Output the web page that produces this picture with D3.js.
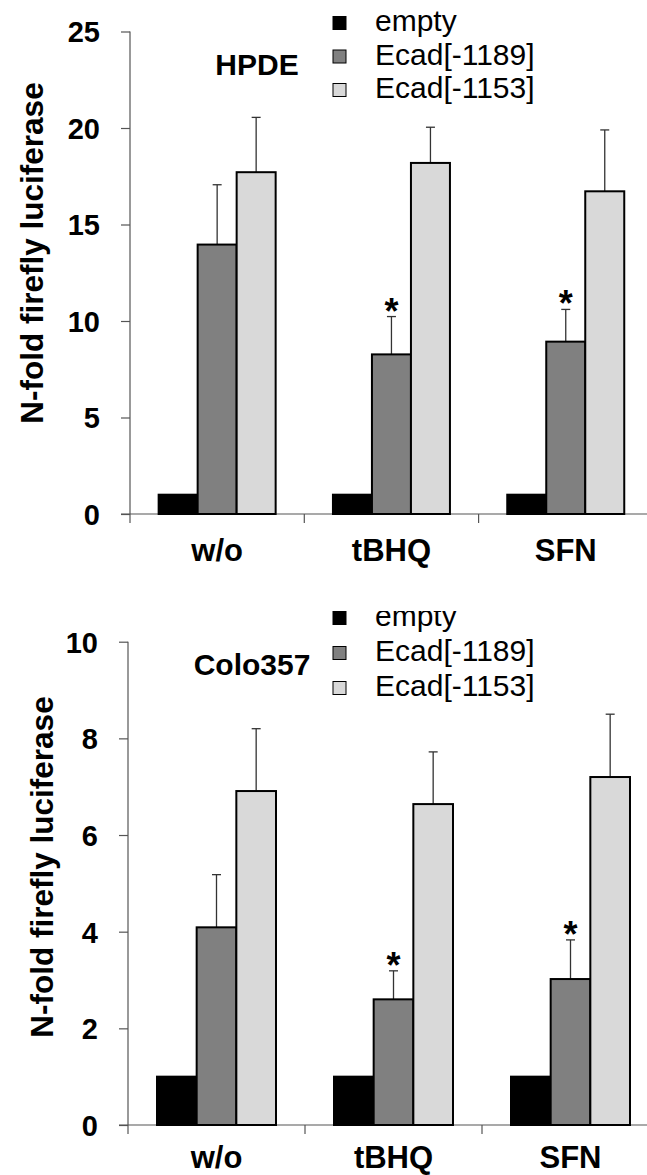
<!DOCTYPE html>
<html>
<head>
<meta charset="utf-8">
<script src="https://cdn.jsdelivr.net/npm/d3@7"></script>
<style>
  body { margin: 0; background: #fff; }
  svg text { font-family: "Liberation Sans", Arial, sans-serif; }
</style>
</head>
<body>
<div id="chart"></div>
<script>
// categories and series
const categories = ["w/o", "tBHQ", "SFN"];
const series = ["empty", "Ecad[-1189]", "Ecad[-1153]"];
const seriesColors = ["#000000", "#808080", "#d9d9d9"];

// HPDE panel
const hpdeEmpty = [1, 1, 1];
const hpde1189 = [13.96, 8.27, 8.93];
const hpde1189Err = [3.1, 1.96, 1.67];
const hpde1153 = [17.71, 18.19, 16.72];
const hpde1153Err = [2.84, 1.85, 3.18];
const hpdeStars = [false, true, true];
const hpdeTicks = [0, 5, 10, 15, 20, 25];

// Colo357 panel
const coloEmpty = [1, 1, 1];
const colo1189 = [4.09, 2.6, 3.02];
const colo1189Err = [1.09, 0.59, 0.81];
const colo1153 = [6.91, 6.64, 7.2];
const colo1153Err = [1.29, 1.08, 1.3];
const coloStars = [false, true, true];
const coloTicks = [0, 2, 4, 6, 8, 10];

const W = 647, H = 1175;
const svg = d3.select("#chart").append("svg")
    .attr("width", W)
    .attr("height", H);

svg.append("defs").append("clipPath")
    .attr("id", "clipBottom")
    .append("rect")
    .attr("x", 0).attr("y", 611).attr("width", W).attr("height", H - 611);

function drawPanel(p) {
    const g = svg.append("g");
    if (p.clip) g.attr("clip-path", "url(#clipBottom)");

    const y = d3.scaleLinear().domain([0, p.ticks[p.ticks.length - 1]]).range([p.y0, p.y1]);
    const x = d3.scaleBand().domain(categories).range([p.x0, p.x0 + 3 * p.band]).padding(0);
    const xs = d3.scaleBand().domain(series).range([0, p.group]);
    const off = (x.bandwidth() - p.group) / 2;

    const rows = categories.map((c, i) => ({
        cat: c,
        vals: [
            { s: series[0], v: p.empty[i], e: 0 },
            { s: series[1], v: p.s1[i], e: p.s1Err[i], star: p.stars[i] },
            { s: series[2], v: p.s2[i], e: p.s2Err[i] }
        ]
    }));

    // y axis
    const yAxis = d3.axisLeft(y).tickValues(p.ticks).tickSize(9).tickPadding(21).tickSizeOuter(0);
    const ya = g.append("g").attr("transform", `translate(${p.x0},0)`).call(yAxis);
    ya.select(".domain").remove();
    ya.selectAll(".tick line").attr("stroke", "#555").attr("stroke-width", 1.2);
    ya.selectAll(".tick text")
        .attr("font-size", 29).attr("font-weight", "bold").attr("fill", "#000")
        .attr("dy", "0.36em");
    g.append("line")
        .attr("x1", p.x0).attr("x2", p.x0)
        .attr("y1", y.range()[1]).attr("y2", p.y0 + 9)
        .attr("stroke", "#555").attr("stroke-width", 1.2);

    // x axis line and boundary ticks
    g.append("line")
        .attr("x1", p.x0 - 9).attr("x2", W)
        .attr("y1", p.y0).attr("y2", p.y0)
        .attr("stroke", "#555").attr("stroke-width", 1.2);
    g.selectAll(".xtick")
        .data(categories.slice(1))
        .enter().append("line")
        .attr("x1", d => x(d)).attr("x2", d => x(d))
        .attr("y1", p.y0).attr("y2", p.y0 + 9)
        .attr("stroke", "#555").attr("stroke-width", 1.2);
    g.selectAll(".xlab")
        .data(categories)
        .enter().append("text")
        .attr("x", d => x(d) + x.bandwidth() / 2)
        .attr("y", p.y0 + p.labelDy)
        .attr("text-anchor", "middle")
        .attr("font-size", 31).attr("font-weight", "bold")
        .text(d => d);

    // bars
    const grp = g.selectAll(".grp")
        .data(rows)
        .enter().append("g")
        .attr("transform", d => `translate(${x(d.cat) + off},0)`);

    // error bars (upper only)
    grp.selectAll(".err")
        .data(d => d.vals.filter(v => v.e > 0))
        .enter().append("g")
        .each(function (d) {
            const cx = xs(d.s) + xs.bandwidth() / 2;
            const sel = d3.select(this);
            sel.append("line")
                .attr("x1", cx).attr("x2", cx)
                .attr("y1", y(d.v)).attr("y2", y(d.v + d.e))
                .attr("stroke", "#333").attr("stroke-width", 1.3);
            sel.append("line")
                .attr("x1", cx - 4.5).attr("x2", cx + 4.5)
                .attr("y1", y(d.v + d.e)).attr("y2", y(d.v + d.e))
                .attr("stroke", "#333").attr("stroke-width", 1.3);
            if (d.star) {
                sel.append("text")
                    .attr("x", cx).attr("y", y(d.v + d.e) + 7)
                    .attr("text-anchor", "middle")
                    .attr("font-size", 36).attr("font-weight", "bold")
                    .text("*");
            }
        });

    grp.selectAll("rect")
        .data(d => d.vals)
        .enter().append("rect")
        .attr("x", d => xs(d.s))
        .attr("width", xs.bandwidth())
        .attr("y", d => y(d.v))
        .attr("height", d => y(0) - y(d.v))
        .attr("fill", (d, i) => seriesColors[i])
        .attr("stroke", "#000")
        .attr("stroke-width", 2);

    // panel title
    g.append("text")
        .attr("x", p.titleX).attr("y", p.titleY)
        .attr("text-anchor", "middle")
        .attr("font-size", 30).attr("font-weight", "bold")
        .text(p.title);

    // y axis title
    g.append("text")
        .attr("transform", `translate(${p.ytX},${p.ytY}) rotate(-90)`)
        .attr("text-anchor", "middle")
        .attr("font-size", 31.5).attr("font-weight", "bold")
        .text("N-fold firefly luciferase");

    // legend
    const leg = g.selectAll(".leg")
        .data(series)
        .enter().append("g")
        .attr("transform", (d, i) => `translate(333,${p.legY + i * p.legStep})`);
    leg.append("rect")
        .attr("x", 0).attr("y", -6.5)
        .attr("width", 13).attr("height", 13)
        .attr("fill", (d, i) => seriesColors[i])
        .attr("stroke", "#000").attr("stroke-width", 1);
    leg.append("text")
        .attr("x", 42).attr("y", 8)
        .attr("font-size", 30)
        .text(d => d);
}

drawPanel({
    title: "HPDE", titleX: 257, titleY: 75,
    ticks: hpdeTicks, empty: hpdeEmpty,
    s1: hpde1189, s1Err: hpde1189Err, s2: hpde1153, s2Err: hpde1153Err, stars: hpdeStars,
    x0: 130, band: 174.3, group: 117,
    y0: 514, y1: 31.5, labelDy: 47,
    ytX: 43, ytY: 253,
    legY: 23, legStep: 33.5, clip: false
});

drawPanel({
    title: "Colo357", titleX: 252, titleY: 675,
    ticks: coloTicks, empty: coloEmpty,
    s1: colo1189, s1Err: colo1189Err, s2: colo1153, s2Err: colo1153Err, stars: coloStars,
    x0: 128, band: 177, group: 119,
    y0: 1125, y1: 641.7, labelDy: 43,
    ytX: 53, ytY: 867,
    legY: 618, legStep: 35, clip: true
});
</script>
</body>
</html>
